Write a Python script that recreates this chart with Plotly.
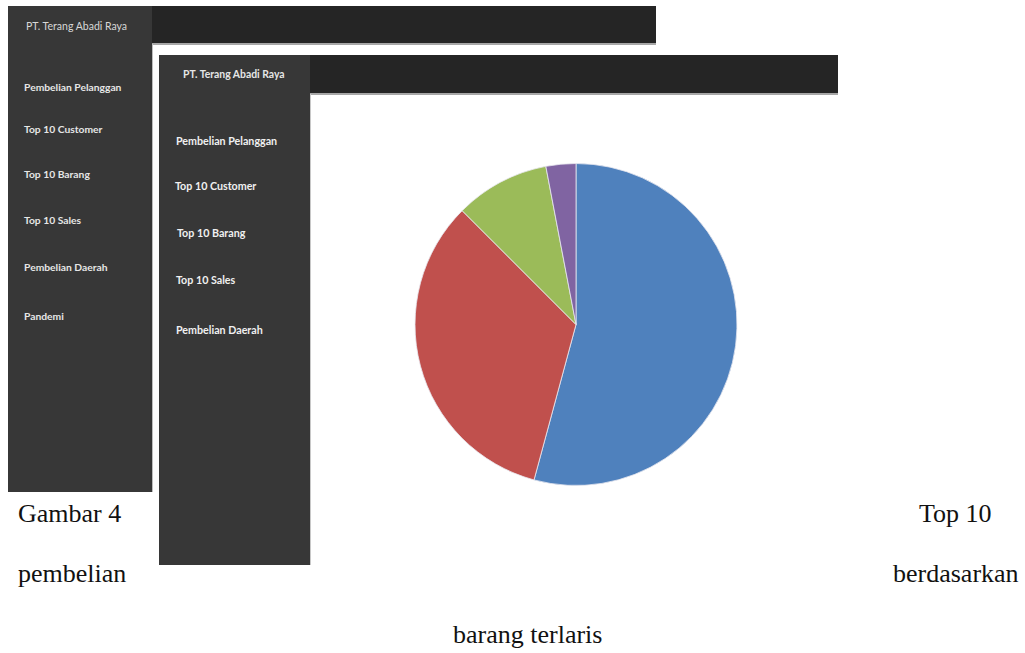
import plotly.graph_objects as go

# Share of sales per best-selling item (four slices visible)
items = ["Barang A", "Barang B", "Barang C", "Barang D"]
shares = [54.2, 33.3, 9.5, 3.0]
slice_colors = ["#4F81BD", "#C0504D", "#9BBB59", "#8064A2"]

# Sidebar menus of the two dashboard views
company = "PT. Terang Abadi Raya"
menu_back = ["Pembelian Pelanggan", "Top 10 Customer", "Top 10 Barang",
             "Top 10 Sales", "Pembelian Daerah", "Pandemi"]
menu_front = ["Pembelian Pelanggan", "Top 10 Customer", "Top 10 Barang",
              "Top 10 Sales", "Pembelian Daerah"]

# Caption words
caption = [("Gambar 4", 17, 513, "left"), ("Top 10", 993, 513, "right"),
           ("pembelian", 17, 573, "left"), ("berdasarkan", 1020, 573, "right"),
           ("barang terlaris", 527, 634, "center")]

W, H = 1025, 653
SIDEBAR = "#373737"
HEADER = "#252525"

fig = go.Figure()

# Pie placed in paper coordinates (centre 576,324, radius 161 px)
cx, cy, r = 576, 324.5, 161
fig.add_trace(go.Pie(
    labels=items, values=shares, sort=False, direction="clockwise",
    rotation=0, textinfo="none", hoverinfo="skip", showlegend=False,
    marker=dict(colors=slice_colors, line=dict(color="#e8e8f0", width=0.8)),
    domain=dict(x=[(cx - r) / W, (cx + r) / W],
                y=[1 - (cy + r) / H, 1 - (cy - r) / H]),
))

shapes = []

def rect(x0, y0, x1, y1, color):
    shapes.append(dict(type="rect", xref="x", yref="y", x0=x0, y0=y0, x1=x1, y1=y1,
                       fillcolor=color, line=dict(width=0), layer="below"))

def line(x0, y0, x1, y1, color, w=1):
    shapes.append(dict(type="line", xref="x", yref="y", x0=x0, y0=y0, x1=x1, y1=y1,
                       line=dict(color=color, width=w), layer="below"))

# Back dashboard view
rect(8, 6, 152, 492, SIDEBAR)
rect(152, 6, 656, 43, HEADER)
line(152, 44, 656, 44, "#8a8a8a", 1.5)
line(152.5, 44, 152.5, 492, "#bdbdbd", 1)

# Front dashboard view
rect(159, 55, 310, 565, SIDEBAR)
rect(310, 55, 838, 93, HEADER)
line(310, 94, 838, 94, "#8a8a8a", 1.5)
line(310.5, 94, 310.5, 565, "#c8c8c8", 1)

annotations = []

def label(text, x, y, size, color, weight="bold", family="Lato", anchor="left"):
    annotations.append(dict(text=text, x=x, y=y, xref="x", yref="y",
                            xanchor=anchor, yanchor="middle", showarrow=False,
                            borderpad=0,
                            font=dict(family=family, size=size, color=color, weight=weight)))

label(company, 25, 26, 10.5, "#d8d8d8", weight="normal")
for text, y in zip(menu_back, [87, 129, 174, 220, 267, 316]):
    label(text, 23, y, 10.3, "#e6e6e6")

label(company, 182, 74, 10.4, "#e6e6e6")
for text, x, y in zip(menu_front, [175, 174, 176, 175, 175], [140, 185, 232, 279, 329]):
    label(text, x, y, 10.7, "#f0f0f0")

for text, x, y, anchor in caption:
    label(text, x, y, 26, "#111111", weight="normal", family="Liberation Serif", anchor=anchor)

fig.update_layout(
    width=W, height=H, margin=dict(l=0, r=0, t=0, b=0),
    paper_bgcolor="white", plot_bgcolor="white",
    xaxis=dict(range=[0, W], visible=False, fixedrange=True, domain=[0, 1]),
    yaxis=dict(range=[H, 0], visible=False, fixedrange=True, domain=[0, 1]),
    shapes=shapes, annotations=annotations,
)

fig.write_html("out.html", config={"displayModeBar": False})
